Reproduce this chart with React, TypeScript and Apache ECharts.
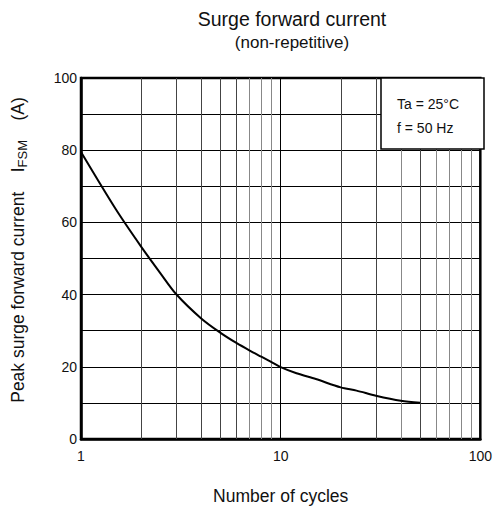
import React, { useEffect, useRef } from "react";
import * as echarts from "echarts";

const curveX = [1, 1.5, 2, 2.5, 3, 4, 5, 6, 7, 8, 9, 10, 12, 15, 20, 24, 30, 40, 50];
const curveY = [79.5, 63.5, 53.3, 45.9, 40.1, 33.4, 29.4, 26.6, 24.5, 22.8, 21.3, 19.9, 18.2, 16.6, 14.3, 13.4, 12.0, 10.6, 10.05];
const darkGridX = [2, 3, 4, 5, 6, 20, 30, 50];
const lightGridX = [7, 8, 9, 40, 60, 70, 80, 90];
const xTickLabels = [1, 10, 100];
const yTickLabels = [0, 20, 40, 60, 80, 100];

const FONT = "Liberation Sans, Arial, Helvetica, sans-serif";

export default function App() {
  const ref = useRef<HTMLDivElement>(null);
  useEffect(() => {
    if (!ref.current) return;
    const chart = echarts.init(ref.current, undefined, { renderer: "svg" });
    const gridLeft = 81, gridTop = 78, gridRight = 495 - 484, gridBottom = 510 - 439;
    chart.setOption({
      animation: false,
      backgroundColor: "#fff",
      textStyle: { fontFamily: FONT },
      title: {
        text: "Surge forward current",
        subtext: "(non-repetitive)",
        left: 287,
        top: 4,
        textAlign: "center",
        itemGap: 5,
        textStyle: { fontFamily: FONT, fontSize: 19.5, fontWeight: "normal", color: "#111" },
        subtextStyle: { fontFamily: FONT, fontSize: 17, color: "#111" },
      },
      grid: {
        left: gridLeft,
        top: gridTop,
        right: gridRight,
        bottom: gridBottom,
        show: true,
        borderColor: "#000",
        borderWidth: 2.5,
        backgroundColor: "#fff",
      },
      xAxis: {
        type: "log",
        logBase: 10,
        min: 1,
        max: 100,
        name: "Number of cycles",
        nameLocation: "middle",
        nameGap: 48,
        nameTextStyle: { fontFamily: FONT, fontSize: 17.5, color: "#111" },
        axisLine: { show: true, lineStyle: { color: "#000", width: 2.5 } },
        axisTick: { show: false },
        axisLabel: {
          margin: 10,
          fontFamily: FONT,
          fontSize: 14,
          color: "#111",
          formatter: (v: number) => (xTickLabels.includes(Math.round(v)) ? String(Math.round(v)) : ""),
        },
        splitLine: { show: true, lineStyle: { color: "#000", width: 1 } },
        minorTick: { show: false },
        minorSplitLine: { show: false },
      },
      yAxis: {
        type: "value",
        min: 0,
        max: 100,
        interval: 10,
        axisLine: { show: true, lineStyle: { color: "#000", width: 2.5 } },
        axisTick: { show: false },
        axisLabel: {
          margin: 4,
          fontFamily: FONT,
          fontSize: 14,
          color: "#111",
          formatter: (v: number) => (yTickLabels.includes(v) ? String(v) : ""),
        },
        splitLine: { show: true, lineStyle: { color: "#000", width: 1 } },
      },
      series: [
        {
          type: "line",
          data: curveX.map((x, i) => [x, curveY[i]]),
          smooth: 0.3,
          symbol: "none",
          lineStyle: { color: "#000", width: 2 },
          z: 5,
          markLine: {
            silent: true,
            symbol: "none",
            label: { show: false },
            z: 1,
            data: [
              ...darkGridX.map((x) => ({ xAxis: x, lineStyle: { color: "#444", width: 1, type: "solid" } })),
              ...lightGridX.map((x) => ({ xAxis: x, lineStyle: { color: "#888", width: 1, type: "solid" } })),
            ],
          },
        },
      ],
      graphic: [
        {
          type: "rect",
          z: 100,
          shape: { x: 381, y: 78, width: 103, height: 71 },
          style: { fill: "#fff", stroke: "#000", lineWidth: 1.5 },
        },
        {
          type: "text",
          z: 101,
          x: 397,
          y: 103.5,
          style: { text: "Ta = 25°C", fontFamily: FONT, fontSize: 14, fill: "#111", verticalAlign: "middle" },
        },
        {
          type: "text",
          z: 101,
          x: 397,
          y: 127.5,
          style: { text: "f = 50 Hz", fontFamily: FONT, fontSize: 14, fill: "#111", verticalAlign: "middle" },
        },
        {
          type: "text",
          z: 101,
          x: 18,
          y: 250,
          rotation: Math.PI / 2,
          style: {
            text: "{t|Peak surge forward current    I}{s|FSM}{t|    (A)}",
            fontFamily: FONT,
            align: "center",
            verticalAlign: "middle",
            fill: "#111",
            rich: {
              t: { fontFamily: FONT, fontSize: 17.5, fill: "#111", lineHeight: 22, verticalAlign: "middle" },
              s: { fontFamily: FONT, fontSize: 13, fill: "#111", lineHeight: 22, verticalAlign: "bottom", padding: [8, 0, 0, 0] },
            },
          },
        },
      ],
    });
    return () => chart.dispose();
  }, []);
  return <div ref={ref} style={{ width: 495, height: 510, position: "absolute", left: 0, top: 0 }} />;
}
